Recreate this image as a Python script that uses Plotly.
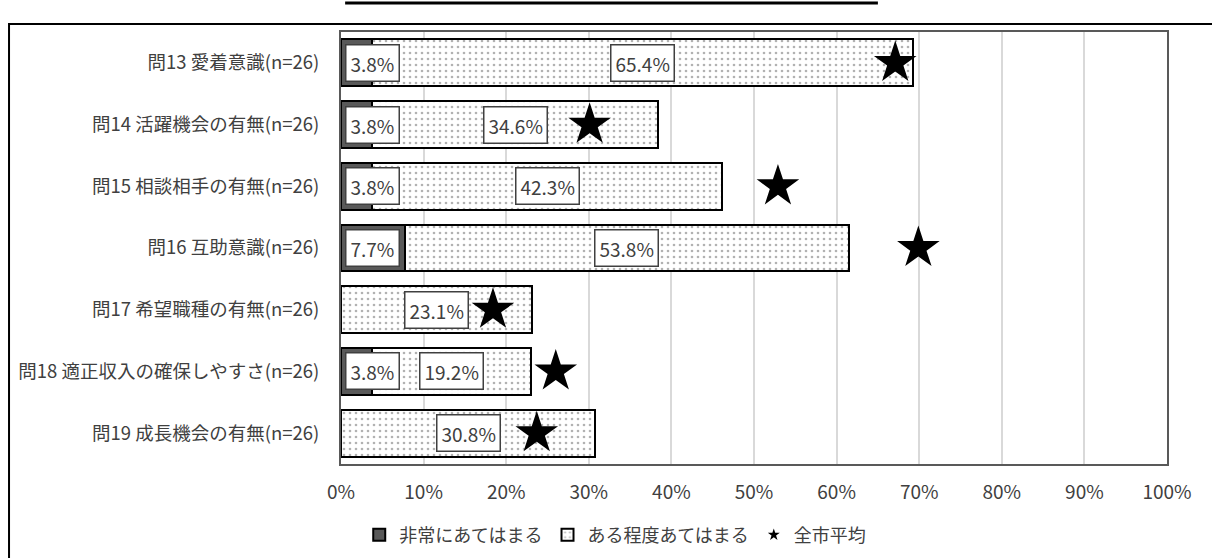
import plotly.graph_objects as go

categories = ["問13 愛着意識(n=26)", "問14 活躍機会の有無(n=26)", "問15 相談相手の有無(n=26)",
              "問16 互助意識(n=26)", "問17 希望職種の有無(n=26)", "問18 適正収入の確保しやすさ(n=26)",
              "問19 成長機会の有無(n=26)"]
very = [3.8, 3.8, 3.8, 7.7, 0.0, 3.8, 0.0]
somewhat = [65.4, 34.6, 42.3, 53.8, 23.1, 19.2, 30.8]
city_avg = [67.1, 30.1, 52.9, 69.9, 18.4, 26.0, 23.7]
tick_vals = [0, 10, 20, 30, 40, 50, 60, 70, 80, 90, 100]
tick_text = [f"{v}%" for v in tick_vals]

FONT = "Noto Sans CJK JP"
TXT = "#404040"

fig = go.Figure()
fig.add_trace(go.Bar(
    y=categories, x=very, orientation="h", name="非常にあてはまる",
    marker=dict(color="#595959", line=dict(color="black", width=2)),
))
fig.add_trace(go.Bar(
    y=categories, x=somewhat, orientation="h", name="ある程度あてはまる",
    marker=dict(color="white", line=dict(color="black", width=2),
                pattern=dict(shape=".", size=6, solidity=0.15, fgcolor="#666666", bgcolor="white")),
))
fig.add_trace(go.Scatter(
    y=categories, x=city_avg, mode="markers", name="全市平均", showlegend=False,
    marker=dict(symbol="star", size=32, color="black"),
))
fig.add_trace(go.Scatter(
    y=[None], x=[None], mode="markers", name="全市平均",
    marker=dict(symbol="star", size=9, color="black"),
))

for cat, v1, v2 in zip(categories, very, somewhat):
    if v1 > 0:
        fig.add_annotation(x=0.5, y=cat, xanchor="left", text=f"{v1:.1f}%", showarrow=False,
                           bgcolor="white", bordercolor=TXT, borderwidth=1.5, borderpad=4,
                           font=dict(size=19, color=TXT, family=FONT))
    fig.add_annotation(x=v1 + v2 / 2, y=cat, text=f"{v2:.1f}%", showarrow=False,
                       bgcolor="white", bordercolor=TXT, borderwidth=1.5, borderpad=4,
                       font=dict(size=19, color=TXT, family=FONT))

# outer frame and top line
fig.add_shape(type="rect", xref="paper", yref="paper", x0=-0.4019, x1=1.2, y0=-0.4, y1=1.0185,
              line=dict(color="black", width=2), layer="below")
fig.add_shape(type="line", xref="paper", yref="paper", x0=0.005, x1=0.650, y0=1.067, y1=1.067,
              line=dict(color="black", width=3))

fig.update_layout(
    width=1212, height=558,
    margin=dict(l=341, r=45, t=32, b=94),
    barmode="stack", bargap=0.24,
    plot_bgcolor="white", paper_bgcolor="white",
    font=dict(family=FONT, size=18, color=TXT),
    showlegend=True,
    legend=dict(orientation="h", x=0.332, xanchor="center", yref="container", y=0.041,
                yanchor="middle", font=dict(size=18, color=TXT, family=FONT), itemwidth=30,
                traceorder="normal"),
    xaxis=dict(range=[0, 100], tickvals=tick_vals, ticktext=tick_text, showgrid=True,
               gridcolor="#d9d9d9", gridwidth=2, zeroline=False, showline=True, mirror=True,
               linecolor="#595959", linewidth=2, ticks="", ticklabelstandoff=10,
               tickfont=dict(size=19), automargin=False),
    yaxis=dict(range=[6.5, -0.5], showline=True, mirror=True, linecolor="#595959", linewidth=2,
               ticks="", ticklabelstandoff=16, tickfont=dict(size=18.5), automargin=False),
)

fig.write_html("out.html", config={"displayModeBar": False},
               post_script="document.body.style.margin='0px';")
